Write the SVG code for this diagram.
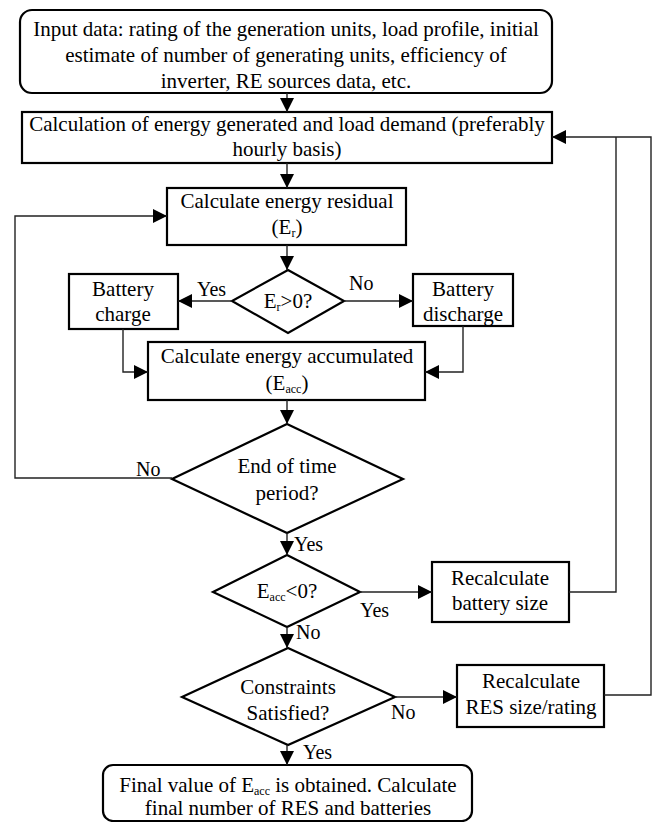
<svg xmlns="http://www.w3.org/2000/svg" width="657" height="822" viewBox="0 0 657 822">
<style>
.box{fill:#fff;stroke:#000;stroke-width:2.2}
.t{fill:#000;text-anchor:middle}
.l{fill:#000}
.c{fill:none;stroke:#222;stroke-width:1.4}
.ca{fill:none;stroke:#222;stroke-width:1.4;marker-end:url(#ah)}
</style>
<defs>
<marker id="ah" markerUnits="userSpaceOnUse" markerWidth="15" markerHeight="15" refX="14" refY="7" orient="auto">
<path d="M0,0 L14,7 L0,14 z" fill="#000"/>
</marker>
</defs>
<rect width="657" height="822" fill="#fff"/>
<g id="input">
<rect class="box" x="20" y="10" width="532" height="83" rx="12"/>
<text class="t" font-family="Liberation Serif" font-size="21" x="286" y="36">Input data: rating of the generation units, load profile, initial</text>
<text class="t" font-family="Liberation Serif" font-size="21" x="286" y="62">estimate of number of generating units, efficiency of</text>
<text class="t" font-family="Liberation Serif" font-size="21" x="286" y="88">inverter, RE sources data, etc.</text>
</g>
<g id="calc-energy">
<rect class="box" x="22" y="112" width="530" height="51"/>
<text class="t" font-family="Liberation Serif" font-size="21" x="287" y="131">Calculation of energy generated and load demand (preferably</text>
<text class="t" font-family="Liberation Serif" font-size="21" x="287" y="156">hourly basis)</text>
</g>
<g id="residual">
<rect class="box" x="167" y="188" width="239" height="57"/>
<text class="t" font-family="Liberation Serif" font-size="21" x="287" y="208">Calculate energy residual</text>
<text class="t" font-family="Liberation Serif" font-size="21" x="287" y="234">(E<tspan font-size="12" dy="3">r</tspan><tspan dy="-3">)</tspan></text>
</g>
<g id="er-decision">
<path class="box" d="M288,270 L344,301 L288,333 L232,301 Z"/>
<text class="t" font-family="Liberation Serif" font-size="21" x="288" y="308">E<tspan font-size="12" dy="3">r</tspan><tspan dy="-3">&gt;0?</tspan></text>
</g>
<g id="charge">
<rect class="box" x="69" y="274" width="109" height="55"/>
<text class="t" font-family="Liberation Serif" font-size="21" x="123" y="296">Battery</text>
<text class="t" font-family="Liberation Serif" font-size="21" x="123" y="321">charge</text>
</g>
<g id="discharge">
<rect class="box" x="413" y="274" width="100" height="52"/>
<text class="t" font-family="Liberation Serif" font-size="21" x="463" y="296">Battery</text>
<text class="t" font-family="Liberation Serif" font-size="21" x="463" y="321">discharge</text>
</g>
<g id="accumulated">
<rect class="box" x="148" y="342" width="277" height="58"/>
<text class="t" font-family="Liberation Serif" font-size="21" x="287" y="363">Calculate energy accumulated</text>
<text class="t" font-family="Liberation Serif" font-size="21" x="287" y="390">(E<tspan font-size="12" dy="3">acc</tspan><tspan dy="-3">)</tspan></text>
</g>
<g id="end-period">
<path class="box" d="M287,424 L403,479 L287,533 L172,479 Z"/>
<text class="t" font-family="Liberation Serif" font-size="21" x="287" y="473">End of time</text>
<text class="t" font-family="Liberation Serif" font-size="21" x="287" y="500">period?</text>
</g>
<g id="eacc-decision">
<path class="box" d="M287,555 L360,592 L287,627 L213,592 Z"/>
<text class="t" font-family="Liberation Serif" font-size="21" x="287" y="598">E<tspan font-size="12" dy="3">acc</tspan><tspan dy="-3">&lt;0?</tspan></text>
</g>
<g id="battery-size">
<rect class="box" x="432" y="562" width="137" height="60"/>
<text class="t" font-family="Liberation Serif" font-size="21" x="500" y="585">Recalculate</text>
<text class="t" font-family="Liberation Serif" font-size="21" x="500" y="610">battery size</text>
</g>
<g id="constraints">
<path class="box" d="M288,648 L395,697 L288,745 L182,697 Z"/>
<text class="t" font-family="Liberation Serif" font-size="21" x="288" y="694">Constraints</text>
<text class="t" font-family="Liberation Serif" font-size="21" x="288" y="720">Satisfied?</text>
</g>
<g id="res-size">
<rect class="box" x="457" y="665" width="147" height="62"/>
<text class="t" font-family="Liberation Serif" font-size="21" x="531" y="688">Recalculate</text>
<text class="t" font-family="Liberation Serif" font-size="21" x="531" y="714">RES size/rating</text>
</g>
<g id="final">
<rect class="box" x="103" y="765" width="369" height="56" rx="10"/>
<text class="t" font-family="Liberation Serif" font-size="21" x="288" y="792">Final value of E<tspan font-size="12" dy="3">acc</tspan><tspan dy="-3"> is obtained. Calculate</tspan></text>
<text class="t" font-family="Liberation Serif" font-size="21" x="288" y="815">final number of RES and batteries</text>
</g>
<g id="connectors">
<path class="ca" d="M287,93 V112"/>
<path class="ca" d="M287,163 V188"/>
<path class="ca" d="M287,245 V270"/>
<path class="ca" d="M232,301 H178"/>
<path class="ca" d="M344,301 H413"/>
<path class="ca" d="M123,329 V372 H148"/>
<path class="ca" d="M463,326 V372 H425"/>
<path class="ca" d="M287,400 V424"/>
<path class="ca" d="M172,478 H15 V216 H167"/>
<path class="ca" d="M287,533 V555"/>
<path class="ca" d="M360,592 H432"/>
<path class="ca" d="M287,627 V648"/>
<path class="ca" d="M395,697 H457"/>
<path class="ca" d="M287,745 V765"/>
<path class="c" d="M569,592 H616 V137"/>
<path class="ca" d="M604,695 H651 V137 H552"/>
<text class="l" font-family="Liberation Serif" font-size="20" x="197" y="296">Yes</text>
<text class="l" font-family="Liberation Serif" font-size="20" x="349" y="290">No</text>
<text class="l" font-family="Liberation Serif" font-size="20" x="136" y="476">No</text>
<text class="l" font-family="Liberation Serif" font-size="20" x="294" y="551">Yes</text>
<text class="l" font-family="Liberation Serif" font-size="20" x="360" y="617">Yes</text>
<text class="l" font-family="Liberation Serif" font-size="20" x="296" y="639">No</text>
<text class="l" font-family="Liberation Serif" font-size="20" x="391" y="719">No</text>
<text class="l" font-family="Liberation Serif" font-size="20" x="303" y="759">Yes</text>
</g>
</svg>
